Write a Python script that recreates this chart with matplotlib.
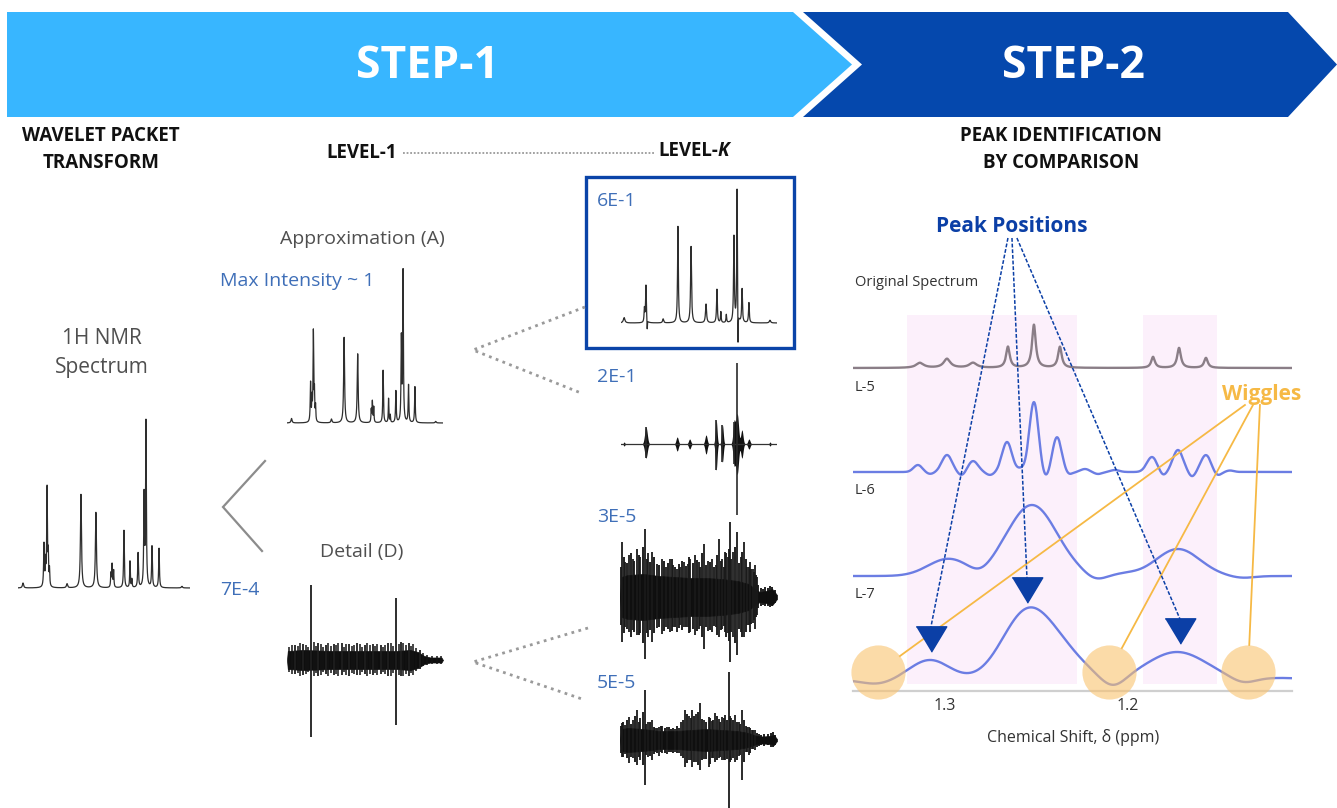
import numpy as np
import matplotlib
matplotlib.use("Agg")
import matplotlib.pyplot as plt
from matplotlib.patches import Polygon, Rectangle

plt.rcParams['font.family'] = ['Open Sans', 'DejaVu Sans']

# ---------------- data ----------------
# 1H NMR spectrum: peak positions (fraction of window), relative heights, half widths
NMR_POS = [0.029, 0.151, 0.160, 0.169, 0.176, 0.183, 0.285, 0.366, 0.453, 0.540, 0.547,
           0.556, 0.616, 0.651, 0.662, 0.698, 0.733, 0.744, 0.779, 0.820, 0.953]
NMR_HT = [0.03, 0.26, 0.14, 0.60, 0.18, 0.10, 0.025, 0.57, 0.46, 0.08, 0.14,
          0.10, 0.35, 0.16, 0.05, 0.21, 0.55, 1.0, 0.25, 0.24, 0.01]
NMR_HW = [0.004, 0.0025, 0.002, 0.0025, 0.002, 0.002, 0.004, 0.0035, 0.0035, 0.002, 0.0025,
          0.002, 0.0025, 0.002, 0.002, 0.0025, 0.0025, 0.0025, 0.0025, 0.0025, 0.004]

# Level-K approximation node (max ~ 6E-1)
SIX_POS = [0.020, 0.150, 0.160, 0.168, 0.270, 0.365, 0.449, 0.545, 0.615, 0.640, 0.675,
           0.724, 0.744, 0.750, 0.776, 0.820, 0.955]
SIX_HT = [0.04, 0.10, 0.28, -0.08, 0.03, 0.72, 0.57, 0.14, 0.25, 0.08, 0.06,
          0.64, 1.0, -0.30, 0.25, 0.15, 0.02]
SIX_HW = [0.006, 0.0025, 0.003, 0.0015, 0.004, 0.003, 0.0035, 0.004, 0.003, 0.0025, 0.0025,
          0.003, 0.0025, 0.0015, 0.003, 0.003, 0.005]

# Level-K node ~ 2E-1: wave-packet bursts and sharp spikes
B2_POS = [0.020, 0.160, 0.360, 0.440, 0.545, 0.610, 0.650, 0.725, 0.745, 0.775, 0.820, 0.955]
B2_UP = [2, 17, 7, 5, 9, 24, 19, 22, 30, 14, 5, 2]
B2_DN = [2, 14, 7, 5, 10, 26, 18, 20, 30, 14, 5, 2]
B2_WID = [0.006, 0.012, 0.010, 0.010, 0.010, 0.008, 0.008, 0.010, 0.012, 0.010, 0.010, 0.006]
SPK2_POS = [0.16, 0.61, 0.65, 0.725, 0.745]
SPK2_UP = [17, 24, 19, 22, 81]
SPK2_DN = [14, 26, 18, 20, 71]

# Level-K node ~ 3E-5 (noise-like): dense core, large spikes, small spikes
BAND3_X = [0.0, 0.008, 0.05, 0.15, 0.25, 0.35, 0.45, 0.55, 0.65, 0.75, 0.82, 0.86, 0.89, 0.93, 0.97, 1.0]
BAND3_AMP = [0, 20, 22, 23, 21, 20, 19, 19, 18, 16, 13, 8, 5, 6, 8, 2]
SP3_X = [0.013, 0.035, 0.057, 0.080, 0.108, 0.130, 0.159, 0.180, 0.204, 0.235,
         0.268, 0.290, 0.318, 0.340, 0.363, 0.385, 0.408, 0.430, 0.446, 0.478,
         0.500, 0.535, 0.560, 0.586, 0.610, 0.631, 0.650, 0.669, 0.685, 0.701,
         0.720, 0.745, 0.770, 0.790, 0.810, 0.828, 0.845, 0.860, 0.875]
SP3_UP = [55, 35, 42, 38, 48, 40, 68, 44, 45, 33, 38, 30, 38, 32, 28, 30, 35, 33, 38, 42,
          35, 53, 36, 38, 32, 58, 38, 45, 40, 75, 45, 65, 40, 55, 30, 35, 28, 32, 20]
SP3_DN = [45, 30, 35, 33, 38, 36, 62, 40, 45, 31, 37, 30, 35, 30, 35, 28, 30, 30, 35, 38,
          32, 52, 34, 35, 30, 40, 32, 35, 36, 65, 40, 58, 35, 40, 28, 35, 26, 32, 18]
SP3B_X = [0.004, 0.024, 0.046, 0.068, 0.092, 0.119, 0.144, 0.170, 0.192, 0.218,
          0.250, 0.279, 0.304, 0.329, 0.352, 0.374, 0.397, 0.419, 0.438, 0.462,
          0.490, 0.512, 0.524, 0.548, 0.573, 0.598, 0.621, 0.641, 0.660, 0.677,
          0.693, 0.710, 0.732, 0.758, 0.780, 0.800, 0.819, 0.837, 0.852, 0.868,
          0.882, 0.895, 0.910, 0.925, 0.940, 0.955, 0.970, 0.985]
SP3B_UP = [30, 40, 34, 44, 36, 42, 50, 38, 35, 40, 32, 36, 34, 38, 30, 33, 36, 31, 40, 34,
           37, 30, 44, 32, 35, 30, 42, 36, 30, 44, 48, 38, 50, 34, 45, 38, 30, 28, 25, 22,
           12, 9, 8, 10, 9, 11, 10, 7]
SP3B_DN = [28, 36, 32, 40, 35, 38, 46, 36, 33, 36, 30, 34, 32, 34, 30, 31, 33, 30, 36, 32,
           34, 29, 40, 30, 33, 29, 38, 33, 29, 40, 44, 35, 46, 32, 40, 35, 28, 27, 23, 20,
           11, 9, 8, 9, 9, 10, 9, 6]

# Level-K node ~ 5E-5 (noise-like)
BAND5_X = [0.0, 0.008, 0.05, 0.15, 0.25, 0.35, 0.45, 0.55, 0.65, 0.75, 0.82, 0.87, 0.91, 0.95, 0.98, 1.0]
BAND5_AMP = [0, 11, 12, 11, 9, 9, 10, 11, 10, 9, 7, 4, 3.5, 4, 5, 1]
SP5_X = [0.013, 0.030, 0.057, 0.080, 0.108, 0.130, 0.159, 0.180, 0.204, 0.225,
         0.248, 0.270, 0.299, 0.350, 0.376, 0.390, 0.414, 0.440, 0.459, 0.485,
         0.510, 0.535, 0.567, 0.585, 0.605, 0.630, 0.650, 0.670, 0.694, 0.710,
         0.732, 0.755, 0.777, 0.800, 0.822, 0.840, 0.860]
SP5_UP = [17, 15, 23, 20, 30, 22, 50, 18, 20, 12, 13, 14, 13, 11, 12, 18, 30, 24, 30, 26,
          37, 20, 23, 19, 27, 21, 23, 25, 68, 22, 25, 18, 30, 14, 13, 10, 10]
SP5_DN = [17, 14, 23, 18, 25, 20, 45, 17, 20, 12, 16, 13, 14, 12, 13, 16, 27, 20, 27, 22,
          30, 19, 27, 18, 22, 18, 20, 20, 68, 20, 22, 16, 40, 12, 15, 9, 10]
SP5B_X = [0.005, 0.022, 0.045, 0.068, 0.094, 0.118, 0.145, 0.168, 0.192, 0.214,
          0.237, 0.259, 0.284, 0.312, 0.325, 0.338, 0.362, 0.402, 0.427, 0.450,
          0.472, 0.497, 0.522, 0.548, 0.576, 0.595, 0.617, 0.640, 0.660, 0.682,
          0.703, 0.721, 0.744, 0.766, 0.788, 0.811, 0.831, 0.850, 0.870, 0.885,
          0.900, 0.920, 0.940, 0.960, 0.975, 0.990]
SP5B_UP = [14, 18, 20, 16, 24, 18, 28, 16, 18, 13, 12, 14, 12, 13, 11, 12, 14, 20, 26, 22,
           24, 28, 21, 18, 22, 20, 24, 18, 22, 20, 24, 20, 18, 16, 20, 13, 12, 10, 7, 6,
           5, 6, 6, 7, 8, 5]
SP5B_DN = [13, 17, 18, 17, 22, 17, 25, 15, 16, 14, 13, 12, 13, 12, 12, 13, 13, 18, 23, 20,
           22, 25, 20, 19, 24, 18, 20, 17, 20, 19, 22, 18, 20, 15, 22, 12, 13, 9, 7, 6,
           5, 6, 5, 7, 7, 5]

# Level-1 detail coefficients (~ 7E-4)
BANDD_X = [0.0, 0.005, 0.1, 0.3, 0.5, 0.7, 0.79, 0.84, 0.88, 0.92, 0.96, 0.99, 1.0]
BANDD_AMP = [0, 9, 10, 9, 9, 9, 10, 8, 4, 2.5, 2.5, 2.5, 0]
SPD_X = [0.05, 0.10, 0.154, 0.20, 0.25, 0.30, 0.35, 0.40, 0.45, 0.50, 0.55, 0.60, 0.65,
         0.699, 0.73, 0.78, 0.85]
SPD_UP = [15, 16, 75, 17, 15, 16, 17, 16, 17, 15, 16, 15, 17, 62, 18, 17, 10]
SPD_DN = [14, 15, 77, 16, 14, 15, 15, 16, 15, 14, 15, 14, 16, 65, 16, 16, 9]
SPDB_X = [0.01, 0.03, 0.07, 0.085, 0.12, 0.135, 0.17, 0.185, 0.215, 0.23,
          0.265, 0.28, 0.315, 0.33, 0.365, 0.38, 0.415, 0.43, 0.465, 0.48,
          0.515, 0.53, 0.565, 0.58, 0.615, 0.63, 0.665, 0.68, 0.715, 0.745,
          0.76, 0.795, 0.81, 0.83, 0.87, 0.90, 0.93, 0.96, 0.985]
SPDB_UP = [13, 15, 14, 17, 15, 13, 18, 14, 16, 13, 17, 14, 15, 17, 13, 16, 14, 15, 16, 13,
           17, 15, 14, 16, 13, 15, 17, 14, 16, 17, 15, 14, 16, 12, 7, 5, 4, 4, 4]
SPDB_DN = [12, 14, 13, 16, 14, 12, 16, 13, 15, 12, 16, 13, 14, 16, 12, 15, 13, 14, 15, 12,
           16, 14, 13, 15, 12, 14, 16, 13, 15, 16, 14, 13, 15, 11, 6, 5, 4, 4, 4]

# Step 2: chemical-shift window (ppm), original spectrum and reconstructed levels
ORIG_PPM = [1.3137, 1.2989, 1.2847, 1.2656, 1.2514, 1.2372, 1.1863, 1.1721, 1.1574]
ORIG_HT = [5, 9, 5, 21, 43, 21, 11, 20, 10]
ORIG_HW = [0.0025, 0.0022, 0.0025, 0.0012, 0.0012, 0.0012, 0.0012, 0.0012, 0.0012]

L5_PPM = [1.3148, 1.3082, 1.2989, 1.2907, 1.2847, 1.2754, 1.2661, 1.2585, 1.2514, 1.2448,
          1.2388, 1.2328, 1.2235, 1.2164, 1.2071, 1.1869, 1.1809, 1.1727, 1.1650, 1.1574,
          1.1514, 1.1443]
L5_AMP = [7, -2, 17, -4, 11, -3, 30, 3, 70, -7, 35, -3, 3, -2, 2, 15, -4, 22, -5, 17, -4, 1.5]
L5_SIG = [0.0024, 0.0022, 0.0028, 0.0022, 0.0028, 0.0022, 0.0027, 0.0019, 0.0025, 0.0022,
          0.0026, 0.0022, 0.0024, 0.0022, 0.0024, 0.0028, 0.0019, 0.0028, 0.0019, 0.0028,
          0.0022, 0.0022]

L6_PPM = [1.2984, 1.2809, 1.2525, 1.2180, 1.2016, 1.1727, 1.1377]
L6_AMP = [17, -5, 71, -5, 2, 27, -2]
L6_SIG = [0.0109, 0.0055, 0.0137, 0.0055, 0.0066, 0.0120, 0.0066]

L7_PPM = [1.3372, 1.3082, 1.2563, 1.2372, 1.2082, 1.1732, 1.1372, 1.1169]
L7_AMP = [-4, 20, 62, 26, -10, 28, -5, 2]
L7_SIG = [0.0082, 0.0109, 0.0131, 0.0131, 0.0066, 0.0164, 0.0066, 0.0137]

TRACE_NAMES = ['Original Spectrum', 'L-5', 'L-6', 'L-7']
TRACE_OFFSETS = [312, 208, 104, 0]

PEAK_REGIONS = [(1.3208, 1.2279), (1.1918, 1.1514)]
PEAK_PPM = [1.3077, 1.2552, 1.1716]
PEAK_MARK_Y = [41, 90, 49]
WIGGLE_PPM = [1.3366, 1.2104, 1.1344]
WIGGLE_Y = [8, 8, 8]
XTICKS = [1.3, 1.2]


def lorentz(x, pos, ht, hw):
    y = np.zeros_like(x)
    for p, h, w in zip(pos, ht, hw):
        y += h * w ** 2 / ((x - p) ** 2 + w ** 2)
    return y


def gauss(x, pos, amp, sig):
    y = np.zeros_like(x)
    for p, a, s in zip(pos, amp, sig):
        y += a * np.exp(-0.5 * ((x - p) / s) ** 2)
    return y


# ---------------- figure ----------------
W, H = 1337, 808
fig = plt.figure(figsize=(W / 100, H / 100), dpi=100)
bg = fig.add_axes([0, 0, 1, 1])
bg.set_xlim(0, W)
bg.set_ylim(H, 0)
bg.axis('off')


def inset(x0, x1, y_top, y_bot, y_base, unit):
    ax = fig.add_axes([x0 / W, 1 - y_bot / H, (x1 - x0) / W, (y_bot - y_top) / H])
    ax.set_xlim(0, 1)
    ax.set_ylim((y_base - y_bot) / unit, (y_base - y_top) / unit)
    ax.axis('off')
    return ax


def noise(ax, band_x, band_amp, groups):
    ax.fill_between(band_x, [-a for a in band_amp], band_amp, color='#0e0e0e', lw=0.5)
    for (sx, su, sd), lw, col in groups:
        ax.vlines(sx, [-d for d in sd], su, color=col, lw=lw)


# step banner
LIGHT = '#38b6ff'
DARK = '#0548ad'
bg.add_patch(Polygon([(7, 12), (793, 12), (852, 64.5), (793, 117), (7, 117)],
                     closed=True, fc=LIGHT, ec='none'))
bg.add_patch(Polygon([(803, 12), (1288, 12), (1337, 64.5), (1288, 117), (803, 117), (862, 64.5)],
                     closed=True, fc=DARK, ec='none'))
bg.text(427, 66, 'STEP-1', color='white', fontsize=32, weight='bold', ha='center', va='center')
bg.text(1073, 66, 'STEP-2', color='white', fontsize=32, weight='bold', ha='center', va='center')

HEAD = dict(fontsize=13.5, weight='bold', color='#111111', ha='center', va='center')
bg.text(101, 136, 'WAVELET PACKET', **HEAD)
bg.text(101, 163, 'TRANSFORM', **HEAD)
bg.text(1061, 136, 'PEAK IDENTIFICATION', **HEAD)
bg.text(1061, 163, 'BY COMPARISON', **HEAD)
bg.text(362, 153, 'LEVEL-1', **HEAD)
lvk = bg.text(658, 151, 'LEVEL-', fontsize=13.5, weight='bold', color='#111111', ha='left', va='center')
fig.canvas.draw()
bb = lvk.get_window_extent(fig.canvas.get_renderer())
k_x = bg.transData.inverted().transform((bb.x1, bb.y0))[0]
bg.text(k_x, 151, 'K', fontsize=13.5, weight='bold', style='italic', color='#111111',
        ha='left', va='center')
bg.plot([403, 654], [153, 153], color='#9a9a9a', lw=1.3, ls=(0, (1, 1)))

GRAY_TXT = '#4f4f4f'
BLUE_TXT = '#3f6fb8'
bg.text(102, 339, '1H NMR', fontsize=15, color=GRAY_TXT, ha='center', va='center')
bg.text(102, 367, 'Spectrum', fontsize=15, color=GRAY_TXT, ha='center', va='center')
bg.text(362, 239, 'Approximation (A)', fontsize=14, color=GRAY_TXT, ha='center', va='center')
bg.text(220, 281, 'Max Intensity ~ 1', fontsize=14, color=BLUE_TXT, ha='left', va='center')
bg.text(362, 552, 'Detail (D)', fontsize=14, color=GRAY_TXT, ha='center', va='center')
bg.text(220, 590, '7E-4', fontsize=14, color=BLUE_TXT, ha='left', va='center')
for lab, y in [('6E-1', 201), ('2E-1', 377), ('3E-5', 517), ('5E-5', 683)]:
    bg.text(597, y, lab, fontsize=14, color=BLUE_TXT, ha='left', va='center')

# split chevron and dotted connectors
bg.plot([265, 223, 262], [461, 507, 551], color='#8c8c8c', lw=1.6, solid_joinstyle='miter')
DOT = dict(color='#9a9a9a', lw=2.0, ls=(0, (1, 1.6)))
bg.plot([585, 473, 581], [307, 350, 393], **DOT)
bg.plot([588, 473, 585], [628, 662, 700], **DOT)

# highlighted node box
bg.add_patch(Rectangle((586, 177), 208, 171, fill=False, ec='#0a44a8', lw=2.4))

SPEC_C = '#2e2e2e'

# 1H NMR spectrum
xs = np.union1d(np.linspace(0, 1, 6000), NMR_POS)
ax = inset(18, 190, 410, 600, 588, 164)
ax.plot(xs, lorentz(xs, NMR_POS, NMR_HT, NMR_HW), color=SPEC_C, lw=0.9)

# Level-1 approximation
ax = inset(287, 443, 260, 430, 423, 150)
ax.plot(xs, lorentz(xs, NMR_POS, NMR_HT, NMR_HW), color=SPEC_C, lw=0.9)

# Level-1 detail
ax = inset(287, 443, 570, 750, 660, 1)
noise(ax, BANDD_X, BANDD_AMP, [((SPDB_X, SPDB_UP, SPDB_DN), 1.1, '#121212'),
                               ((SPD_X, SPD_UP, SPD_DN), 1.3, '#1e1e1e')])

# Level-K nodes
xs6 = np.union1d(np.linspace(0, 1, 6000), SIX_POS)
ax = inset(621, 777, 180, 345, 323, 134)
ax.plot(xs6, lorentz(xs6, SIX_POS, SIX_HT, SIX_HW), color=SPEC_C, lw=0.9)

ax = inset(621, 777, 355, 520, 444, 1)
xb = np.linspace(0, 1, 3000)
env_up = np.zeros_like(xb)
env_dn = np.zeros_like(xb)
for p, u, d, w in zip(B2_POS, B2_UP, B2_DN, B2_WID):
    g = np.exp(-((xb - p) / w) ** 2)
    env_up += u * g
    env_dn += d * g
ax.plot([0, 1], [0, 0], color='#333333', lw=0.9)
ax.fill_between(xb, -env_dn, env_up, color='#111111', lw=0)
ax.vlines(SPK2_POS, [-d for d in SPK2_DN], SPK2_UP, color='#2a2a2a', lw=1.2)

ax = inset(620, 777, 515, 665, 597, 1)
noise(ax, BAND3_X, BAND3_AMP, [((SP3B_X, SP3B_UP, SP3B_DN), 1.3, '#101010'),
                               ((SP3_X, SP3_UP, SP3_DN), 1.3, '#1a1a1a')])

ax = inset(620, 777, 665, 808, 740, 1)
noise(ax, BAND5_X, BAND5_AMP, [((SP5B_X, SP5B_UP, SP5B_DN), 1.3, '#101010'),
                               ((SP5_X, SP5_UP, SP5_DN), 1.3, '#1a1a1a')])

# ---------------- step 2 panel ----------------
axr = fig.add_axes([853 / W, 1 - 691 / H, (1292 - 853) / W, (691 - 200) / H])
axr.patch.set_alpha(0)
axr.set_xlim(1.35027, 1.11038)
axr.set_ylim(-11, 480)
for s in ['top', 'right', 'left']:
    axr.spines[s].set_visible(False)
axr.spines['bottom'].set_color('#cfcfcf')
axr.spines['bottom'].set_linewidth(1.6)
axr.set_yticks([])
axr.set_xticks(XTICKS)
axr.set_xticklabels([f'{t:.1f}' for t in XTICKS], fontsize=11.5, color='#333333')
axr.tick_params(axis='x', length=0, pad=5)
axr.text(1.2301, -57, 'Chemical Shift, δ (ppm)', fontsize=11.5, color='#333333',
         ha='center', va='center')

for lo, hi in PEAK_REGIONS:
    axr.fill_between([lo, hi], -4, 365, color='#fcf0fb', lw=0, zorder=0)

xp = np.union1d(np.linspace(1.11038, 1.35027, 3000), ORIG_PPM)
traces = [lorentz(xp, ORIG_PPM, ORIG_HT, ORIG_HW),
          gauss(xp, L5_PPM, L5_AMP, L5_SIG),
          gauss(xp, L6_PPM, L6_AMP, L6_SIG),
          gauss(xp, L7_PPM, L7_AMP, L7_SIG)]
colors = ['#8a7e87', '#6b7de3', '#6b7de3', '#6b7de3']
for tr, off, c in zip(traces, TRACE_OFFSETS, colors):
    axr.plot(xp, tr + off, color=c, lw=1.7, zorder=2)
for name, off in zip(TRACE_NAMES, TRACE_OFFSETS):
    axr.text(1.3492, off + 85, name, fontsize=10.5, color='#333333', ha='left', va='center')

# wiggles: circles and pointer lines
ORANGE = '#f6b945'
axr.text(1.1268, 286, 'Wiggles', fontsize=15, weight='bold', color=ORANGE, ha='center', va='center')
radius_px = 27
starts = [(1.1361, 275), (1.1317, 275), (1.1279, 275)]
for (sx, sy), wx, wy in zip(starts, WIGGLE_PPM, WIGGLE_Y):
    p0 = axr.transData.transform((sx, sy))
    pc = axr.transData.transform((wx, wy))
    v = p0 - pc
    pe = pc + v / np.hypot(*v) * radius_px
    ex, ey = axr.transData.inverted().transform(pe)
    axr.plot([sx, ex], [sy, ey], color=ORANGE, lw=1.3, zorder=3, clip_on=False)
axr.plot(WIGGLE_PPM, WIGGLE_Y, 'o', ms=39, mfc=(0.976, 0.765, 0.435, 0.6), mec='none',
         ls='none', zorder=4, clip_on=False)

# peak positions: dashed pointers and markers
PBLUE = '#0b3fa6'
axr.text(1.2634, 454, 'Peak Positions', fontsize=15, weight='bold', color=PBLUE,
         ha='center', va='center')
tri = [(-1, 0.83), (1, 0.83), (0, -0.83)]
for sx, px, py in zip([1.2656, 1.2634, 1.2607], PEAK_PPM, PEAK_MARK_Y):
    axr.plot([sx, px], [442, py + 12], color=PBLUE, lw=1.1, ls=(0, (2.5, 1.2)),
             zorder=5, clip_on=False)
axr.plot(PEAK_PPM, PEAK_MARK_Y, marker=tri, ms=22, color=PBLUE, ls='none', zorder=6,
         clip_on=False)

fig.savefig('out.png', dpi=100)
